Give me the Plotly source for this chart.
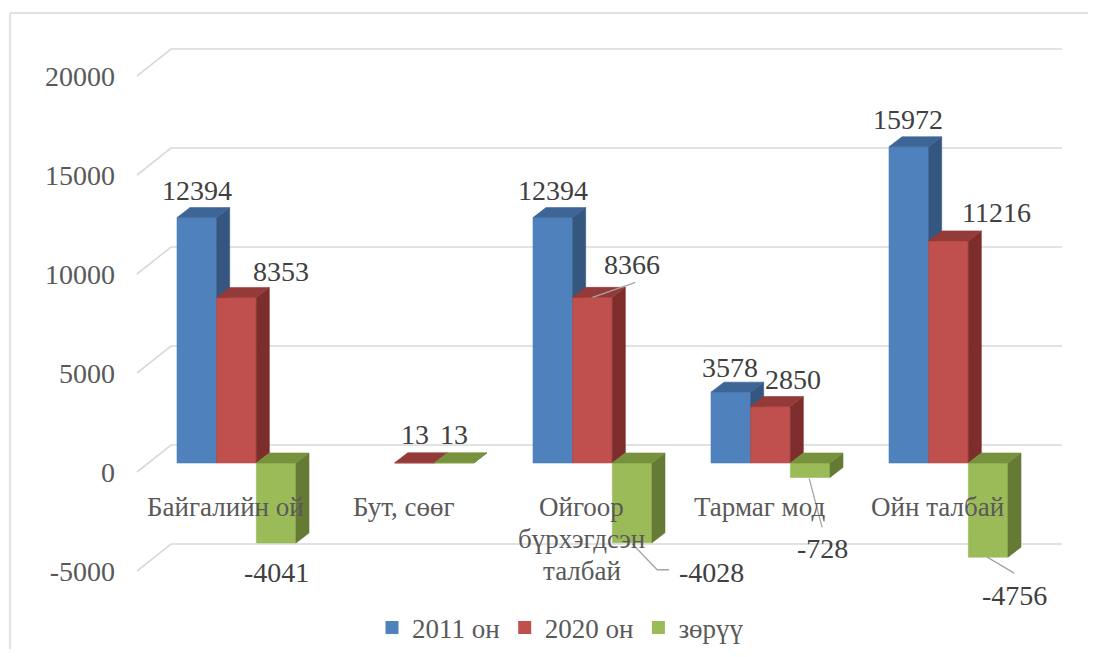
import plotly.graph_objects as go

# ---------------- data ----------------
categories = ["Байгалийн ой", "Бут, сөөг", "Ойгоор\nбүрхэгдсэн\nталбай", "Тармаг мод", "Ойн талбай"]
series_names = ["2011 он", "2020 он", "зөрүү"]
values_2011 = [12394, None, 12394, 3578, 15972]
values_2020 = [8353, 13, 8366, 2850, 11216]
values_diff = [-4041, 13, -4028, -728, -4756]
y_tick_values = [-5000, 0, 5000, 10000, 15000, 20000]

series_values = [values_2011, values_2020, values_diff]

# ---------------- styles / geometry (page pixel coordinates) ----------------
PAGE_W, PAGE_H = 1096, 657
BODY = 8                                   # default page margin around the figure
W, H = PAGE_W - 2 * BODY, PAGE_H - 2 * BODY
PX_L, PX_R, PX_T, PX_B = 120, 1076, 30, 615
X0_PX, CAT_PX = 236.5, 178.0       # pixel of category 0 centre, pixels per category
Y0_PX, UNIT_PX = 463.0, 0.0198     # pixel of value 0 (bar plane), pixels per unit

FONT = "Liberation Serif, Times New Roman, Tinos, DejaVu Serif, serif"
FS = 27
FS_NUM = 28
front_col = ["#4F81BD", "#C0504D", "#9BBB59"]
side_col = ["#34567F", "#7D2E2C", "#647A35"]
top_col = ["#3D6595", "#943A38", "#76923C"]
grid_col = "#D9D9D9"
text_col = "#404040"
axis_text_col = "#595959"

GROUP_W = 119 / CAT_PX
BAR_W = GROUP_W / 3
DEPTH_DX_PX, DEPTH_DY_PX = 13, 10   # bar depth (right, up)
BACK_DY_PX = 18                     # back wall offset (up)
FRONT_DX_PX, FRONT_DY_PX = -11, -9  # front floor edge offset (right, up)


def dxu(px):
    return px / CAT_PX


def dyu(px_up):
    return px_up / UNIT_PX


xr = [(PX_L - X0_PX) / CAT_PX, (PX_R - X0_PX) / CAT_PX]
yr = [(Y0_PX - PX_B) / UNIT_PX, (Y0_PX - PX_T) / UNIT_PX]

# label offsets (px right, px down) relative to bar end
label_off = [
    [(0, -27), None, (0, -27), (-1, -25), (-1, -27)],
    [(44.5, -26), (0, -28), (39, -33), (22, -27), (47.5, -28)],
    [(0, 29), (0, -28), (79, 30), (12, 71), (26, 38)],
]
# leader lines: (series, category, [(px right, px down), ...]) relative to bar end
leaders = [
    (1, 2, [(0, 0), (43, -15)]),
    (2, 2, [(0, 1), (25, 27), (37, 27)]),
    (2, 3, [(-1, 1), (12, 50)]),
    (2, 4, [(-1, 0), (26, 16)]),
]

fig = go.Figure()

# ---------------- gridlines (perspective) ----------------
gx, gy = [], []
x_fl = (137 - X0_PX) / CAT_PX
x_bl = (171 - X0_PX) / CAT_PX
x_br = (1062 - X0_PX) / CAT_PX
for v in y_tick_values:
    gx += [x_fl, x_bl, x_br, None]
    gy += [v + dyu(FRONT_DY_PX), v + dyu(BACK_DY_PX), v + dyu(BACK_DY_PX), None]
fig.add_trace(go.Scatter(x=gx, y=gy, mode="lines", line=dict(color=grid_col, width=1.6),
                         hoverinfo="skip", showlegend=False))

# ---------------- 3D bars ----------------
ddx, ddy = dxu(DEPTH_DX_PX), dyu(DEPTH_DY_PX)
for k, vals in enumerate(series_values):
    fx, fy, sx, sy, tx, ty = [], [], [], [], [], []
    for i, v in enumerate(vals):
        if v is None:
            continue
        xl = i - GROUP_W / 2 + k * BAR_W
        xrr = xl + BAR_W
        fx += [xl, xrr, xrr, xl, xl, None]
        fy += [0, 0, v, v, 0, None]
        sx += [xrr, xrr + ddx, xrr + ddx, xrr, xrr, None]
        sy += [0, ddy, v + ddy, v, 0, None]
        t = max(v, 0)
        tx += [xl, xrr, xrr + ddx, xl + ddx, xl, None]
        ty += [t, t, t + ddy, t + ddy, t, None]
    for X, Y, c in ((fx, fy, front_col[k]), (sx, sy, side_col[k]), (tx, ty, top_col[k])):
        fig.add_trace(go.Scatter(x=X, y=Y, mode="lines", fill="toself", fillcolor=c,
                                 line=dict(color=c, width=0.6), hoverinfo="skip",
                                 showlegend=False))

# legend entries
for k, name in enumerate(series_names):
    fig.add_trace(go.Scatter(x=[None], y=[None], mode="markers", name=name,
                             marker=dict(symbol="square", size=13, color=front_col[k])))

# ---------------- leader lines ----------------
for k, i, pts in leaders:
    v = series_values[k][i]
    xc = i - GROUP_W / 2 + (k + 0.5) * BAR_W
    fig.add_trace(go.Scatter(x=[xc + dxu(p[0]) for p in pts], y=[v - dyu(p[1]) for p in pts],
                             mode="lines", line=dict(color="#A6A6A6", width=1.3),
                             hoverinfo="skip", showlegend=False))

annotations = []
# ---------------- data labels ----------------
for k, vals in enumerate(series_values):
    for i, v in enumerate(vals):
        if v is None:
            continue
        xc = i - GROUP_W / 2 + (k + 0.5) * BAR_W
        ox, oy = label_off[k][i]
        annotations.append(dict(x=xc, y=v, xref="x", yref="y", text=str(v), showarrow=False,
                                xshift=ox, yshift=-oy, xanchor="center", yanchor="middle",
                                font=dict(family=FONT, size=FS_NUM, color=text_col)))

# ---------------- category labels ----------------
for i, cat in enumerate(categories):
    for j, line in enumerate(cat.split("\n")):
        annotations.append(dict(x=i + dxu(FRONT_DX_PX), y=0, xref="x", yref="y", text=line,
                                showarrow=False, xanchor="center", yanchor="middle",
                                yshift=-(44 + 32 * j),
                                font=dict(family=FONT, size=FS, color=axis_text_col)))


def xp(px):
    return (px - PX_L) / (PX_R - PX_L)


def yp(py):
    return (PX_B - py) / (PX_B - PX_T)


shapes = [
    dict(type="line", xref="paper", yref="paper", x0=xp(10), x1=xp(1100), y0=yp(13), y1=yp(13),
         line=dict(color=grid_col, width=1.5)),
    dict(type="line", xref="paper", yref="paper", x0=xp(10), x1=xp(10), y0=yp(13), y1=yp(660),
         line=dict(color=grid_col, width=1.5)),
]

fig.update_layout(
    width=W, height=H,
    margin=dict(l=PX_L - BODY, r=W + BODY - PX_R, t=PX_T - BODY, b=H + BODY - PX_B,
                autoexpand=False),
    plot_bgcolor="white", paper_bgcolor="white",
    xaxis=dict(range=xr, visible=False, fixedrange=True),
    yaxis=dict(range=yr, showgrid=False, zeroline=False, showline=False, ticks="",
               tickvals=[v + dyu(FRONT_DY_PX) for v in y_tick_values],
               ticktext=[str(v) for v in y_tick_values], ticklabelstandoff=4,
               tickfont=dict(family=FONT, size=FS_NUM, color=axis_text_col), fixedrange=True),
    showlegend=True,
    legend=dict(orientation="h", x=xp(372), xanchor="left", y=yp(628), yanchor="middle",
                font=dict(family=FONT, size=FS, color=axis_text_col), itemwidth=30,
                bgcolor="rgba(0,0,0,0)"),
    annotations=annotations,
    shapes=shapes,
)

fig.write_html("out.html", config={"displayModeBar": False})
